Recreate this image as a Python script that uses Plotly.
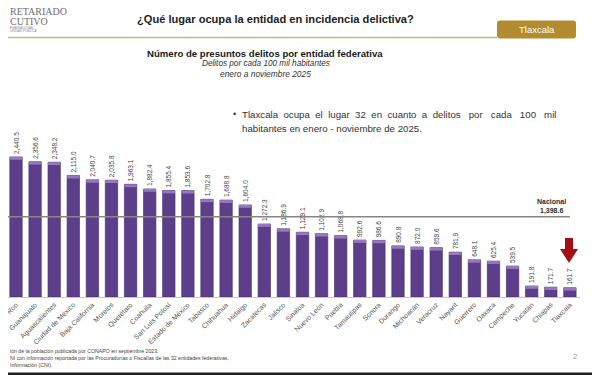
import plotly.graph_objects as go

# ---------------- data ----------------
entidades = ["Quintana Roo", "Guanajuato", "Aguascalientes",
             "Ciudad de México", "Baja California", "Morelos", "Querétaro", "Coahuila",
             "San Luis Potosí", "Estado de México", "Tabasco", "Chihuahua", "Hidalgo",
             "Zacatecas", "Jalisco", "Sinaloa", "Nuevo León", "Puebla", "Tamaulipas",
             "Sonora", "Durango", "Michoacán", "Veracruz", "Nayarit", "Guerrero",
             "Oaxaca", "Campeche", "Yucatán", "Chiapas", "Tlaxcala"]
tasas = [2440.5, 2356.6, 2348.2, 2115.0, 2040.7, 2035.8, 1963.1, 1882.4,
         1855.4, 1853.6, 1702.8, 1688.8, 1604.0, 1272.3, 1186.9, 1129.1, 1102.9,
         1068.8, 992.6, 986.6, 890.8, 872.0, 859.6, 781.9, 648.1, 625.4, 539.5,
         191.8, 171.7, 161.7]
nacional = 1398.6
entidad_destacada = "Tlaxcala"

# ---------------- layout helpers ----------------
# the page body keeps an 8px default margin, so the figure is drawn 8px in
OFF = 8
W, H = 600 - OFF, 375 - OFF
ML, MR, MT, MB = 0, 20, 92, 78
PW, PH = W - ML - MR, H - MT - MB
BASE_Y = H - MB
Y_MAX = PH / 0.0574
STEP = 19.1                      # pixels per category
X0 = -(16 - OFF) / STEP          # first category centre at screen x = 16
X1 = X0 + PW / STEP


def px(x):
    """screen x (window pixels) -> paper x"""
    return (x - OFF - ML) / PW


def py(y):
    """screen y (window pixels) -> paper y"""
    return (BASE_Y - (y - OFF)) / PH


FONT = "Liberation Sans, Arial, sans-serif"
SERIF = "Liberation Serif, DejaVu Serif, serif"

etiquetas = [f"{v:,.1f}" for v in tasas]
cap = 50  # light top band height (data units)

fig = go.Figure()
fig.add_trace(go.Bar(
    x=entidades, y=tasas, text=etiquetas, textposition="outside",
    textangle=-90, constraintext="none",
    textfont=dict(size=6.5, color="#444444", family=FONT),
    marker=dict(color="#5D3E8B", line=dict(color="#432A6B", width=0.6)),
    cliponaxis=False, hoverinfo="x+y", showlegend=False,
))
fig.add_trace(go.Bar(
    x=entidades, y=[cap] * len(tasas), base=[v - cap for v in tasas],
    marker=dict(color="#9479BD", line=dict(width=0)),
    hoverinfo="skip", showlegend=False,
))

shapes = []
# nacional line
shapes.append(dict(type="line", xref="x", yref="y", x0=X0 - 1, x1=len(entidades) - 1,
                   y0=nacional, y1=nacional, line=dict(color="#858585", width=1.6)))
# header gold rule and label box (rounded)
shapes.append(dict(type="line", xref="paper", yref="paper", x0=px(OFF), x1=px(497),
                   y0=py(37.5), y1=py(37.5), line=dict(color="#C8B37C", width=1.3)))
bx0, bx1, by0, by1, r = 497, 576, 20.5, 38.5, 3
box = (f"M {px(bx0+r)},{py(by0)} L {px(bx1-r)},{py(by0)} Q {px(bx1)},{py(by0)} {px(bx1)},{py(by0+r)} "
       f"L {px(bx1)},{py(by1-r)} Q {px(bx1)},{py(by1)} {px(bx1-r)},{py(by1)} "
       f"L {px(bx0+r)},{py(by1)} Q {px(bx0)},{py(by1)} {px(bx0)},{py(by1-r)} "
       f"L {px(bx0)},{py(by0+r)} Q {px(bx0)},{py(by0)} {px(bx0+r)},{py(by0)} Z")
shapes.append(dict(type="path", xref="paper", yref="paper", path=box,
                   fillcolor="#B28C2E", line=dict(width=0)))
# red arrow pointing to highlighted entity
ax = 569
arrow = (f"M {px(ax-4)},{py(238)} L {px(ax+4)},{py(238)} L {px(ax+4)},{py(249)} "
         f"L {px(ax+9)},{py(249)} L {px(ax)},{py(263)} L {px(ax-9)},{py(249)} "
         f"L {px(ax-4)},{py(249)} Z")
shapes.append(dict(type="path", xref="paper", yref="paper", path=arrow,
                   fillcolor="#A50E12", line=dict(width=0)))
# dark frame edges (photo border)
shapes.append(dict(type="rect", xref="paper", yref="paper", x0=px(597), x1=px(601),
                   y0=py(OFF - 1), y1=py(376), fillcolor="#151515", line=dict(width=0)))
shapes.append(dict(type="rect", xref="paper", yref="paper", x0=px(OFF - 1), x1=px(601),
                   y0=py(372.5), y1=py(376), fillcolor="#202020", line=dict(width=0)))

ann = []


def text(x, y, s, size, color="#222222", bold=False, italic=False, anchor="center",
         family=FONT):
    if bold:
        s = f"<b>{s}</b>"
    if italic:
        s = f"<i>{s}</i>"
    ann.append(dict(xref="paper", yref="paper", x=px(x), y=py(y), text=s,
                    showarrow=False, xanchor=anchor, yanchor="middle",
                    font=dict(size=size, color=color, family=family)))


# logo (cropped in the photo)
text(OFF, 11, "RETARIADO", 10, "#6E6E6E", anchor="left", family=SERIF)
text(OFF, 21, "CUTIVO", 10, "#6E6E6E", anchor="left", family=SERIF)
text(OFF, 28, "EMA NACIONAL", 3.2, "#8A8A8A", anchor="left")
text(OFF, 31, "URIDAD PÚBLICA", 3.2, "#8A8A8A", anchor="left")
# titles
text(275, 20, "¿Qué lugar ocupa la entidad en incidencia delictiva?", 11.1, "#222222", bold=True)
text(536.5, 29.5, "Tlaxcala", 9.5, "#FFFFFF")
text(265, 53, "Número de presuntos delitos por entidad federativa", 9.6, "#1A1A1A", bold=True)
text(266, 64, "Delitos por cada 100 mil habitantes", 8.2, "#333333", italic=True)
text(265.5, 74, "enero a noviembre 2025", 8.4, "#333333", italic=True)
# bullet
text(231, 114, "•", 9, "#333333", anchor="left")
text(240, 114, "Tlaxcala  ocupa  el  lugar  32  en  cuanto  a  delitos   por   cada   100   mil",
     9.7, "#333333", anchor="left")
text(240, 128, "habitantes en enero - noviembre de 2025.", 9.7, "#333333", anchor="left")
# nacional label
text(551, 201, "Nacional", 7, "#2A2A2A", bold=True)
text(551, 210.5, f"{nacional:,.1f}", 7, "#2A2A2A", bold=True)
# footnotes (cropped in the photo)
text(OFF, 351, "ión de la población publicada por CONAPO en septiembre 2023.", 5.2, "#444444", anchor="left")
text(OFF, 358, "NI con información reportada por las Procuradurías o Fiscalías de las 32 entidades federativas.",
     5.2, "#444444", anchor="left")
text(OFF, 365, "Información (CNI).", 5.2, "#444444", anchor="left")
# page number
text(575, 356, "2", 8, "#9A9A9A")

fig.update_layout(
    width=W, height=H, margin=dict(l=ML, r=MR, t=MT, b=MB, autoexpand=False),
    paper_bgcolor="white", plot_bgcolor="white",
    barmode="overlay", bargap=0.35,
    shapes=shapes, annotations=ann,
    xaxis=dict(type="category", range=[X0, X1],
               tickangle=-45, tickfont=dict(size=7, color="#555555", family=FONT),
               showline=True, linecolor="#C8C8C8", linewidth=1, ticks="",
               showgrid=False, fixedrange=True),
    yaxis=dict(range=[0, Y_MAX], visible=False, showgrid=False, fixedrange=True),
    font=dict(family=FONT),
)

fig.write_html("out.html")
